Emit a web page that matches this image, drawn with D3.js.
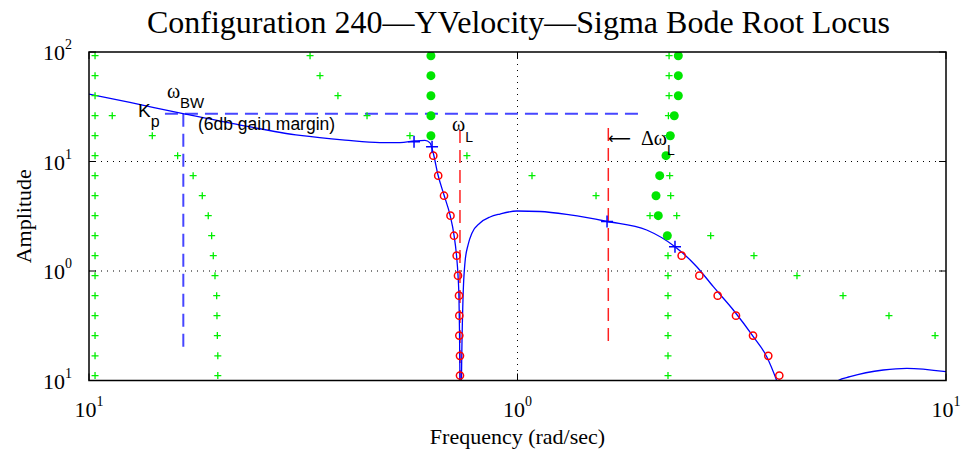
<!DOCTYPE html>
<html><head><meta charset="utf-8">
<script src="https://cdn.jsdelivr.net/npm/d3@7"></script>
<style>body{margin:0;background:#fff}svg{display:block}</style>
</head><body>
<svg id="chart" width="962" height="451"></svg>
<script>
// ---------------- data ----------------
const titleText = "Configuration 240\u2014YVelocity\u2014Sigma Bode Root Locus";
const xLabelText = "Frequency (rad/sec)";
const yLabelText = "Amplitude";
const xTicks = [0.1, 1, 10];
const xTickExp = ["1", "0", "1"];
const yTicks = [0.1, 1, 10, 100];
const yTickExp = ["1", "0", "1", "2"];

// root-locus gain levels (one row of markers per gain)
const gainRows = [92.5, 60.8, 39.9, 26.2, 17.2, 11.3, 7.42, 4.87, 3.20, 2.10, 1.38, 0.906, 0.595, 0.391, 0.257, 0.168, 0.111];

// green "+" locus branches: frequency for each gain row (null = none)
const locusA = [0.1033,0.1033,0.1033,0.1033,0.1033,0.1033,0.1033,0.1033,0.1033,0.1033,0.1033,0.1033,0.1033,0.1033,0.1033,0.1033,0.1033];
const locusB = [null,null,null,0.1133,0.1405,0.161,0.175,0.1838,0.1898,0.1933,0.195,0.1968,0.1986,0.1989,0.1993,0.1998,0.1998];
const locusC = [0.328,0.346,0.381,0.4455,0.561,0.762,1.081,1.525,2.038,2.824,3.563,4.49,5.75,7.36,9.43,null,null];
const locusD = [2.258,2.258,2.258,2.25,2.24,2.23,2.266,2.278,2.353,2.24,2.245,2.245,2.245,2.245,2.245,2.245,2.245];

// green filled dots
const dotsA = [0.628,0.628,0.628,0.628,0.628,null,null,null,null,null,null,null,null,null,null,null,null];
const dotsB = [2.373,2.373,2.373,2.322,2.273,2.221,2.147,2.105,2.131,2.237,null,null,null,null,null,null,null];

// red open circles
const circlesA = [null,null,null,null,null,0.636,0.653,0.6737,0.6976,0.7109,0.7212,0.7263,0.7303,0.7315,0.7315,0.7341,0.7341];
const circlesB = [null,null,null,null,null,null,null,null,null,null,2.416,2.657,2.932,3.235,3.545,3.848,4.083];

// sigma Bode curve (three visible pieces)
const bode1F = [0.1,0.1246,0.1657,0.2251,0.3108,0.3958,0.4776,0.5318,0.5765,0.6083,0.6249,0.635,0.6524,0.6737,0.6958,0.7109,0.7204,0.7263,0.7303,0.7322,0.7341,0.736];
const bode1A = [41.3,34.6,27.4,21.5,17.3,15.7,14.9,14.9,15.4,15.6,14.8,12.2,7.53,4.94,3.25,2.13,1.40,0.919,0.5435,0.289,0.1,0.03];
const bode2F = [0.738,0.740,0.746,0.7543,0.7665,0.7832,0.8176,0.8627,0.9104,0.997,1.128,1.326,1.618,2.002,2.331,2.62,2.864,3.189,3.55,3.816,4.026,4.21];
const bode2A = [0.03,0.1,0.5435,1.208,1.727,2.223,2.744,3.113,3.315,3.531,3.494,3.25,2.832,2.368,1.667,1.095,0.719,0.4403,0.2512,0.165,0.1,0.06];
const bode3F = [5.362,5.607,5.97,7.14,8.1,10];
const bode3A = [0.085,0.1,0.1083,0.1247,0.1292,0.1203];

// blue "+" markers on the Bode curve
const bodeMarkF = [0.5735,0.6318,1.618,2.331];
const bodeMarkA = [15.17,13.65,2.832,1.667];

// dashed guide lines
const bwLevel = 27.3, bwFreq = 0.166;
const bwHLine = [0.1504, 1.931];
const bwVLine = [27.3, 0.198];
const redVLineF = [0.7341, 1.629];
const redVLineA = [[19.4, 0.1], [20.2, 0.202]];

// ---------------- drawing ----------------
const svg = d3.select("#chart");
const L = 89, R = 946, T = 52, B = 380.5;
const x = d3.scaleLog().domain([0.1, 10]).range([L, R]);
const y = d3.scaleLog().domain([0.1, 100]).range([B, T]);

const serif = "'Liberation Serif','Times New Roman',serif";
const sans = "'Liberation Sans',Arial,Helvetica,sans-serif";

svg.append("defs").append("clipPath").attr("id","clip")
  .append("rect").attr("x",L).attr("y",T).attr("width",R-L).attr("height",B-T);

// grid (major only, interior)
const grid = svg.append("g").attr("stroke","#000").attr("stroke-width",1).attr("stroke-dasharray","1,5");
grid.selectAll("line.gx").data(xTicks.slice(1,-1)).join("line")
  .attr("x1",d=>x(d)).attr("x2",d=>x(d)).attr("y1",T).attr("y2",B);
grid.selectAll("line.gy").data(yTicks.slice(1,-1)).join("line")
  .attr("y1",d=>y(d)).attr("y2",d=>y(d)).attr("x1",L).attr("x2",R);

const plot = svg.append("g").attr("clip-path","url(#clip)");

// dashed guides
const blueDash = "rgb(70,70,255)";
plot.append("line").attr("x1",x(bwHLine[0])).attr("x2",x(bwHLine[1]))
  .attr("y1",y(bwLevel)).attr("y2",y(bwLevel))
  .attr("stroke",blueDash).attr("stroke-width",2).attr("stroke-dasharray","13,7");
plot.append("line").attr("x1",x(bwFreq)).attr("x2",x(bwFreq))
  .attr("y1",y(bwVLine[0])).attr("y2",y(bwVLine[1]))
  .attr("stroke",blueDash).attr("stroke-width",2).attr("stroke-dasharray","13,7");
redVLineF.forEach((f,i)=>{
  plot.append("line").attr("x1",x(f)).attr("x2",x(f))
    .attr("y1",y(redVLineA[i][0])).attr("y2",y(redVLineA[i][1]))
    .attr("stroke","#ff2020").attr("stroke-width",1.5).attr("stroke-dasharray","13,7");
});

// Bode curve
const line = d3.line().x(d=>x(d[0])).y(d=>y(d[1])).curve(d3.curveMonotoneX);
[[bode1F,bode1A],[bode2F,bode2A],[bode3F,bode3A]].forEach(([fs,as])=>{
  plot.append("path").datum(fs.map((f,i)=>[f,as[i]])).attr("d",line)
    .attr("fill","none").attr("stroke","#0000ff").attr("stroke-width",1.3);
});

// green plus markers
const plusPts = [];
[locusA,locusB,locusC,locusD].forEach(br=>br.forEach((f,i)=>{ if(f!=null) plusPts.push([f,gainRows[i]]); }));
const pg = plot.append("g").attr("stroke","#00ee00").attr("stroke-width",1.3);
pg.selectAll("path").data(plusPts).join("path")
  .attr("d",d=>{const cx=x(d[0]),cy=y(d[1]),s=3.5;return `M${cx-s},${cy}H${cx+s}M${cx},${cy-s}V${cy+s}`;});

// green dots
const dotPts = [];
[dotsA,dotsB].forEach(br=>br.forEach((f,i)=>{ if(f!=null) dotPts.push([f,gainRows[i]]); }));
plot.append("g").selectAll("circle").data(dotPts).join("circle")
  .attr("cx",d=>x(d[0])).attr("cy",d=>y(d[1])).attr("r",4.5).attr("fill","#00e600");

// red circles
const circPts = [];
[circlesA,circlesB].forEach(br=>br.forEach((f,i)=>{ if(f!=null) circPts.push([f,gainRows[i]]); }));
plot.append("g").selectAll("circle").data(circPts).join("circle")
  .attr("cx",d=>x(d[0])).attr("cy",d=>y(d[1])).attr("r",3.6)
  .attr("fill","none").attr("stroke","#ff0000").attr("stroke-width",1.5);

// blue plus markers
plot.append("g").attr("stroke","#0000ff").attr("stroke-width",1.5)
  .selectAll("path").data(bodeMarkF.map((f,i)=>[f,bodeMarkA[i]])).join("path")
  .attr("d",d=>{const cx=x(d[0]),cy=y(d[1]),s=6;return `M${cx-s},${cy}H${cx+s}M${cx},${cy-s}V${cy+s}`;});

// axes frame and ticks
const tl = 7;
const ax = svg.append("g").attr("stroke","#000");
ax.append("rect").attr("x",L).attr("y",T).attr("width",R-L).attr("height",B-T)
  .attr("fill","none").attr("stroke-width",1.5);
xTicks.forEach(t=>{
  ax.append("line").attr("x1",x(t)).attr("x2",x(t)).attr("y1",B).attr("y2",B-tl).attr("stroke-width",1);
  ax.append("line").attr("x1",x(t)).attr("x2",x(t)).attr("y1",T).attr("y2",T+tl).attr("stroke-width",1);
});
yTicks.forEach(t=>{
  ax.append("line").attr("y1",y(t)).attr("y2",y(t)).attr("x1",L).attr("x2",L+tl).attr("stroke-width",1);
  ax.append("line").attr("y1",y(t)).attr("y2",y(t)).attr("x1",R).attr("x2",R-tl).attr("stroke-width",1);
});

// tick labels
xTicks.forEach((t,i)=>{
  const tx = svg.append("text").attr("x",x(t)).attr("y",B+36).attr("text-anchor","middle")
    .attr("font-family",serif).attr("font-size",22).attr("fill","#000");
  tx.append("tspan").text("10");
  tx.append("tspan").attr("dy",-11).attr("font-size",14).text(xTickExp[i]);
});
yTicks.forEach((t,i)=>{
  const tx = svg.append("text").attr("x",L-17).attr("y",y(t)+8).attr("text-anchor","end")
    .attr("font-family",serif).attr("font-size",22).attr("fill","#000");
  tx.append("tspan").text("10");
  tx.append("tspan").attr("dy",-11).attr("font-size",14).text(yTickExp[i]);
});

// title and axis labels
svg.append("text").attr("x",(L+R)/2+1).attr("y",33).attr("text-anchor","middle")
  .attr("font-family",serif).attr("font-size",32).text(titleText);
svg.append("text").attr("x",(L+R)/2).attr("y",444).attr("text-anchor","middle")
  .attr("font-family",serif).attr("font-size",22).text(xLabelText);
svg.append("text").attr("transform",`translate(31,${(T+B)/2}) rotate(-90)`).attr("text-anchor","middle")
  .attr("font-family",serif).attr("font-size",22).text(yLabelText);

// annotations (anchored at data coordinates)
const ann = svg.append("g").attr("fill","#000");
function sub(anchor, mainTxt, mainFont, mainSize, subTxt, subSize, subDy){
  const t = ann.append("text").attr("x",x(anchor[0])).attr("y",y(anchor[1]));
  t.append("tspan").attr("font-family",mainFont).attr("font-size",mainSize).text(mainTxt);
  t.append("tspan").attr("font-family",sans).attr("font-size",subSize).attr("dy",subDy).text(subTxt);
  return t;
}
sub([0.1301,25.5],"K",sans,19,"p",16,10);
sub([0.152,38.0],"\u03c9",serif,20,"BW",15,10);
ann.append("text").attr("x",x(0.1796)).attr("y",y(19.4)).attr("font-family",sans).attr("font-size",17.5)
  .text("(6db gain margin)");
sub([0.7034,18.8],"\u03c9",serif,20,"L",14,10.5);
const arr = ann.append("text").attr("x",x(1.626)).attr("y",y(14.15));
arr.append("tspan").attr("font-family","'DejaVu Sans',sans-serif").attr("font-size",16).attr("dy",-0.5).text("\u27f5");
arr.append("tspan").attr("font-family",serif).attr("font-size",20).attr("dx",10).attr("dy",0.5).text("\u0394\u03c9");
arr.append("tspan").attr("font-family",sans).attr("font-size",14).attr("dy",10.5).text("L");
</script>
</body></html>
